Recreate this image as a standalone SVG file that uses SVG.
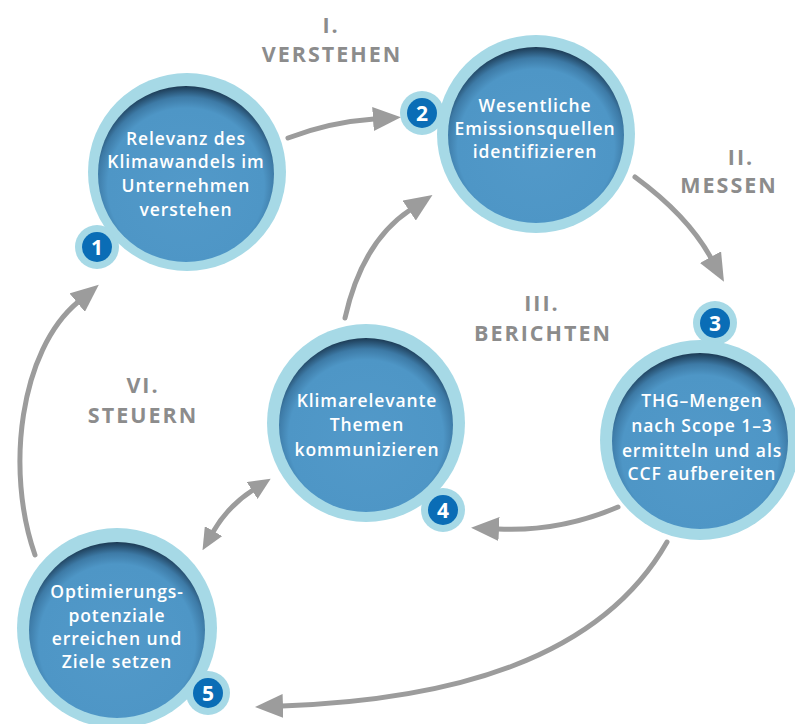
<svg xmlns="http://www.w3.org/2000/svg" width="795" height="724" viewBox="0 0 795 724">
<style>
.ring{fill:#a6d9e6}
.core{fill:url(#g)}
.badge{fill:#0a6db6}
.num{fill:#fff;font-family:"Open Sans",sans-serif;font-weight:700;font-size:21px;text-anchor:middle}
.t{fill:#fff;font-family:"Open Sans",sans-serif;font-weight:600;font-size:17.5px;text-anchor:middle;letter-spacing:0.9px}
.ph{fill:#8c8c8c;font-family:"Open Sans",sans-serif;font-weight:700;font-size:21.5px;text-anchor:middle;letter-spacing:2px}
.ar{fill:none;stroke:#9c9c9c;stroke-width:5;stroke-linecap:round}
</style>
<defs>
<radialGradient id="g" cx="0.5" cy="0.57" r="0.57">
<stop offset="0" stop-color="#5299c9"/>
<stop offset="0.78" stop-color="#4e96c6"/>
<stop offset="0.89" stop-color="#3d7aa6"/>
<stop offset="1" stop-color="#1c3a54"/>
</radialGradient>
<marker id="h" viewBox="0 0 28 24" refX="1" refY="12" markerWidth="28" markerHeight="24" markerUnits="userSpaceOnUse" orient="auto-start-reverse">
<path d="M0,0 L28,12 L0,24 z" fill="#9c9c9c"/>
</marker>
<marker id="hs" viewBox="0 0 22 20" refX="1" refY="10" markerWidth="22" markerHeight="20" markerUnits="userSpaceOnUse" orient="auto-start-reverse">
<path d="M0,0 L22,10 L0,20 z" fill="#9c9c9c"/>
</marker>
</defs>
<g id="phases">
<text class="ph" x="331" y="33">I.</text>
<text class="ph" x="332" y="62">VERSTEHEN</text>
<text class="ph" x="741" y="165">II.</text>
<text class="ph" x="729" y="193">MESSEN</text>
<text class="ph" x="542" y="311">III.</text>
<text class="ph" x="543" y="341">BERICHTEN</text>
<text class="ph" x="143" y="393">VI.</text>
<text class="ph" x="143" y="423">STEUERN</text>
</g>
<g id="connectors">
<path class="ar" d="M288,138 Q330,122 374,119" marker-end="url(#h)"/>
<path class="ar" d="M635,177 Q688,216 711,258" marker-end="url(#h)"/>
<path class="ar" d="M618,507 Q560,532 498,529" marker-end="url(#h)"/>
<path class="ar" d="M667,542 C600,660 450,700 282,706" marker-end="url(#h)"/>
<path class="ar" d="M345,318 Q362,242 410,210" marker-end="url(#h)"/>
<path class="ar" d="M213,532 Q228,506 253,490" marker-start="url(#hs)" marker-end="url(#hs)"/>
<path class="ar" d="M35,555 C5,470 20,350 78,302" marker-end="url(#h)"/>
</g>
<g id="node1">
<circle class="ring" cx="97" cy="247" r="22"/>
<circle class="ring" cx="187" cy="172" r="99"/>
<circle class="core" cx="186" cy="174" r="88"/>
<circle class="badge" cx="97" cy="247" r="15"/>
<text class="num" x="97" y="254.5">1</text>
<text class="t" x="186" y="145">Relevanz des</text>
<text class="t" x="186" y="168">Klimawandels im</text>
<text class="t" x="186" y="192">Unternehmen</text>
<text class="t" x="186" y="216">verstehen</text>
</g>
<g id="node2">
<circle class="ring" cx="422" cy="113" r="22"/>
<circle class="ring" cx="536" cy="134" r="99"/>
<circle class="core" cx="536" cy="135" r="88"/>
<circle class="badge" cx="422" cy="113" r="15"/>
<text class="num" x="422" y="120.5">2</text>
<text class="t" x="535" y="112">Wesentliche</text>
<text class="t" x="535" y="135">Emissionsquellen</text>
<text class="t" x="535" y="158">identifizieren</text>
</g>
<g id="node3">
<circle class="ring" cx="715" cy="323" r="22"/>
<circle class="ring" cx="700" cy="440" r="100"/>
<circle class="core" cx="700" cy="441" r="88"/>
<circle class="badge" cx="715" cy="323" r="15"/>
<text class="num" x="715" y="330.5">3</text>
<text class="t" x="702" y="407">THG–Mengen</text>
<text class="t" x="702" y="432">nach Scope 1–3</text>
<text class="t" x="702" y="457">ermitteln und als</text>
<text class="t" x="702" y="480">CCF aufbereiten</text>
</g>
<g id="node4">
<circle class="ring" cx="443" cy="510" r="22"/>
<circle class="ring" cx="366" cy="423" r="99"/>
<circle class="core" cx="366" cy="425" r="87"/>
<circle class="badge" cx="443" cy="510" r="15"/>
<text class="num" x="443" y="517.5">4</text>
<text class="t" x="367" y="407">Klimarelevante</text>
<text class="t" x="367" y="431">Themen</text>
<text class="t" x="367" y="456">kommunizieren</text>
</g>
<g id="node5">
<circle class="ring" cx="208" cy="693" r="22"/>
<circle class="ring" cx="117" cy="628" r="100"/>
<circle class="core" cx="117" cy="630" r="88"/>
<circle class="badge" cx="208" cy="693" r="15"/>
<text class="num" x="208" y="700.5">5</text>
<text class="t" x="117" y="598">Optimierungs-</text>
<text class="t" x="117" y="622">potenziale</text>
<text class="t" x="117" y="645">erreichen und</text>
<text class="t" x="117" y="668">Ziele setzen</text>
</g>
</svg>
